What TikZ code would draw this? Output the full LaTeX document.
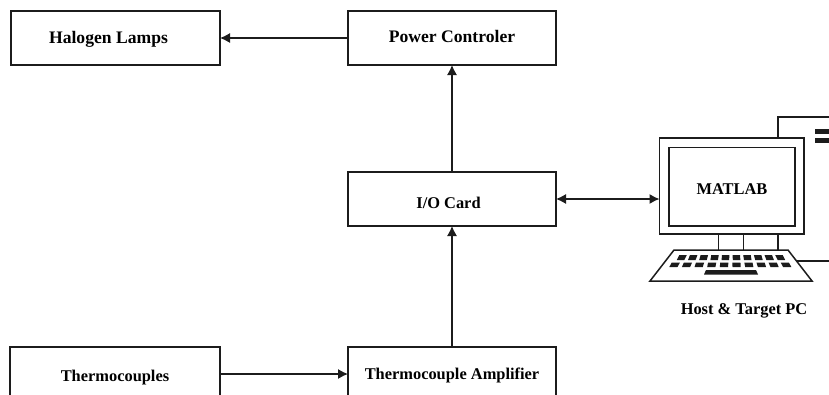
\documentclass[tikz,border=0pt]{standalone}
\usepackage{fontspec}
\setmainfont{Liberation Serif}
\usetikzlibrary{arrows.meta}
\definecolor{ink}{HTML}{1C1C1C}
\newcommand{\placed}[2]{\raisebox{#1}[0pt][0pt]{#2}}
\tikzset{
  boxn/.style={draw=ink,line width=1.2pt,fill=white,minimum width=#1,minimum height=54pt,inner sep=0pt,outer sep=0pt,text=black,font=\bfseries\fontsize{16.4}{18}\selectfont},
  boxn/.default=208pt,
  bigtext/.style={font=\bfseries\fontsize{17.6}{18}\selectfont},
  link/.style={draw=ink,line width=1.2pt,-{Latex[length=10pt,width=10pt]}},
  dlink/.style={draw=ink,line width=1.2pt,{Latex[length=10pt,width=10pt]}-{Latex[length=10pt,width=10pt]}},
  wire/.style={draw=ink,line width=1.5pt},
  key/.style={fill=ink,draw=none},
}
\begin{document}
\begin{tikzpicture}[x=1pt,y=-1pt]
\useasboundingbox (0,0) rectangle (829,394);
\clip (0,0) rectangle (829,394);
\fill[white] (0,0) rectangle (829,394);
% boxes
\node[boxn=209pt,bigtext] (halogen) at (115.5,38) {\hspace*{-14pt}\placed{-5pt}{Halogen Lamps}};
\node[boxn,bigtext] (power) at (452,38) {\placed{-4pt}{Power Controler}};
\node[boxn] (io) at (452,199) {\hspace*{-7pt}\placed{-9pt}{I/O Card}};
\node[boxn=210pt] (thermo) at (115,374) {\placed{-7pt}{Thermocouples}};
\node[boxn] (amp) at (452,374) {\placed{-5pt}{Thermocouple Amplifier}};
% computer
\node[draw=ink,line width=1.5pt,minimum width=144.5pt,minimum height=96pt,inner sep=0pt,outer sep=0pt] (monitor) at (731.75,186) {};
\node[draw=ink,line width=1.5pt,minimum width=126pt,minimum height=78.5pt,inner sep=0pt,outer sep=0pt,text=black,font=\bfseries\fontsize{16.4}{18}\selectfont] (screen) at (732,186.75) {\placed{-8pt}{MATLAB}};
\coordinate (kbTL) at (674,250);
\coordinate (kbTR) at (788,250);
\coordinate (kbBR) at (812,281);
\coordinate (kbBL) at (650,281);
\draw[wire] (kbTL) -- (kbTR) -- (kbBR) -- (kbBL) -- cycle;
\draw[wire] (718.5,234) -- (718.5,250);
\draw[wire] (743.5,234) -- (743.5,250);
\draw[wire] (778,234) -- (778,250);
% keys
\foreach \i in {0,...,9}{
  \pgfmathsetmacro{\xa}{682+\i*10.05-(4.5-\i)*0.6}
  \pgfmathsetmacro{\xb}{\xa+7.5}
  \pgfmathsetmacro{\dx}{(4.5-\i)*0.55}
  \fill[key] (\xa,255) -- (\xb,255) -- ({\xb-\dx},260) -- ({\xa-\dx},260) -- cycle;
  \pgfmathsetmacro{\xc}{674+\i*11.6-(4.5-\i)*0.5}
  \pgfmathsetmacro{\xd}{\xc+8.2}
  \fill[key] (\xc,262.5) -- (\xd,262.5) -- ({\xd-\dx},267) -- ({\xc-\dx},267) -- cycle;
}
\fill[key] (706,270) -- (756,270) -- (758,274.5) -- (704,274.5) -- cycle;
% tower fragment
\coordinate (towerTop) at (829,117);
\coordinate (towerCorner) at (778,117);
\coordinate (towerBase) at (778,138);
\coordinate (kbWireA) at (797,261);
\coordinate (kbWireB) at (829,261);
\draw[wire] (towerBase) -- (towerCorner) -- (towerTop);
\draw[wire] (kbWireA) -- (kbWireB);
\fill[ink] (815,129) rectangle (829,133.5);
\fill[ink] (815,138) rectangle (829,142.5);
\node[text=black,font=\bfseries\fontsize{16.4}{18}\selectfont,inner sep=0pt] (caption) at (744,311) {Host \& Target PC};
% connectors
\draw[link] (power.west) -- (halogen.east);
\draw[link] (io.north) -- (power.south);
\draw[link] (amp.north) -- (io.south);
\draw[link] (thermo.east) -- (amp.west);
\draw[dlink] (io.east) -- (monitor.west |- io.east);
\end{tikzpicture}
\end{document}
